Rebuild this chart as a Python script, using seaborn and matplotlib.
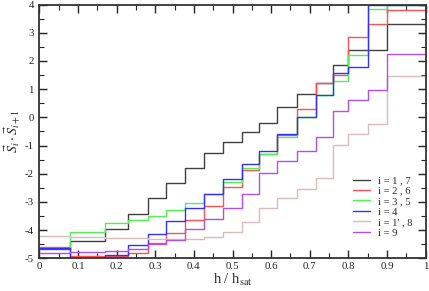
import numpy as np
import pandas as pd
import matplotlib
matplotlib.use('Agg')
import matplotlib.pyplot as plt
import seaborn as sns
from matplotlib.ticker import MultipleLocator

# field values where the correlations jump (h / h_sat)
h_steps = [0, 0.078, 0.171, 0.23, 0.282, 0.329, 0.377, 0.426, 0.476, 0.524,
           0.569, 0.614, 0.666, 0.716, 0.759, 0.80, 0.85, 0.90, 1.0]

# nearest-neighbour correlation on each plateau
s_17 = [-4.65, -4.39, -3.96, -3.43, -2.87, -2.31, -1.79, -1.28, -0.86, -0.51,
        -0.19, 0.36, 0.84, 1.21, 1.84, 2.40, 2.40, 3.30]
s_26 = [-4.58, -4.90, -4.93, -4.82, -4.45, -4.11, -3.64, -3.13, -2.48, -1.85,
        -1.31, -0.62, 0.28, 1.23, 1.50, 2.84, 3.30, 3.80]
s_35 = [-4.62, -4.08, -3.76, -3.63, -3.50, -3.29, -3.04, -2.70, -2.28, -1.79,
        -1.31, -0.69, 0.02, 0.79, 1.29, 2.21, 3.83, 3.98]
s_4 = [-4.64, -4.99, -4.87, -4.54, -4.15, -3.69, -3.20, -2.70, -2.20, -1.67,
       -1.20, -0.58, 0.00, 0.80, 1.56, 1.77, 4.00, 4.00]
s_18 = [-4.20, -4.25, -4.27, -4.29, -4.30, -4.30, -4.30, -4.25, -4.05, -3.70,
        -3.23, -2.85, -2.54, -2.16, -0.98, -0.60, -0.25, 1.48]
s_9 = [-4.82, -4.78, -4.74, -4.66, -4.49, -4.33, -3.97, -3.62, -3.23, -2.72,
       -1.99, -1.55, -1.18, -0.69, 0.21, 0.61, 0.98, 2.24]

labels = ["i = 1 , 7", "i = 2 , 6", "i = 3 , 5", "i = 4", "i = 1' , 8", "i = 9"]
colors = ["#404040", "#ff5050", "#50f050", "#3030ff", "#d8bcbc", "#b050e8"]

rows = []
for lab, vals in zip(labels, [s_17, s_26, s_35, s_4, s_18, s_9]):
    ys = vals + [vals[-1]]
    for h, v in zip(h_steps, ys):
        rows.append({'h': h, 'corr': v, 'pair': lab})
df = pd.DataFrame(rows)

sns.set_style('ticks')
plt.rcParams['font.family'] = ['Liberation Serif', 'DejaVu Serif']
plt.rcParams['mathtext.fontset'] = 'stix'
plt.rcParams['axes.unicode_minus'] = False

fig = plt.figure(figsize=(4.29, 2.91), dpi=100)
ax = fig.add_axes([0.092, 0.112, 0.9, 0.8725])

sns.lineplot(data=df, x='h', y='corr', hue='pair', hue_order=labels,
             palette=colors, drawstyle='steps-post', lw=1.0, ax=ax,
             legend=True, sort=False)

ax.set_xlim(0, 1)
ax.set_ylim(-5, 4)
ax.xaxis.set_major_locator(MultipleLocator(0.1))
ax.xaxis.set_minor_locator(MultipleLocator(0.05))
ax.yaxis.set_major_locator(MultipleLocator(1))
ax.yaxis.set_minor_locator(MultipleLocator(0.5))
ax.xaxis.set_major_formatter(plt.FuncFormatter(lambda v, p: f'{v:g}'))
ax.yaxis.set_major_formatter(plt.FuncFormatter(lambda v, p: f'{v:g}'))
ax.tick_params(which='both', direction='in', top=True, right=True,
               labelsize=7.8, colors='#222222')
ax.tick_params(axis='x', pad=2.5)
ax.tick_params(axis='y', pad=4)
ax.tick_params(which='major', length=6, width=1)
ax.tick_params(which='minor', length=3.5, width=0.8)
for sp in ax.spines.values():
    sp.set_linewidth(1.3)
    sp.set_color('#333333')

ax.set_xlabel(r'h / h$_{\rm sat}$', fontsize=10.5, labelpad=1)
ax.set_ylabel(r'$\vec{S}_i\cdot\vec{S}_{i+1}$', fontsize=10, labelpad=0)
ax.yaxis.set_label_coords(-0.045, 0.5)

handles, labs = ax.get_legend_handles_labels()
ax.legend(handles, labs, loc='upper left', bbox_to_anchor=(0.812, 0.325),
          frameon=False, fontsize=7.6, handlelength=1.6, handletextpad=0.8,
          labelspacing=0.1, borderpad=0, borderaxespad=0)

fig.savefig('out.png', dpi=100)
